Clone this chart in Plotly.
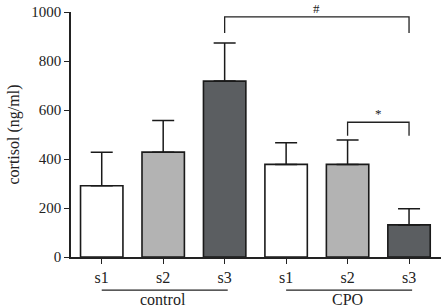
import plotly.graph_objects as go

categories = ["s1", "s2", "s3", "s1 ", "s2 ", "s3 "]
tick_labels = ["s1", "s2", "s3", "s1", "s2", "s3"]
means = [291, 428, 718, 378, 378, 131]
errors = [137, 129, 155, 88, 100, 66]
bar_colors = ["#ffffff", "#b3b3b3", "#5b5e61", "#ffffff", "#b3b3b3", "#5b5e61"]
groups = ["control", "CPO"]
y_ticks = [0, 200, 400, 600, 800, 1000]

FONT = "Liberation Serif"
x = list(range(len(categories)))

fig = go.Figure()
fig.add_trace(go.Bar(
    x=x, y=means, width=0.69,
    marker=dict(color=bar_colors, line=dict(color="#1a1a1a", width=1.6)),
    error_y=dict(type="data", array=errors, arrayminus=[0]*len(errors),
                 symmetric=False, color="#1a1a1a", thickness=1.5, width=11),
    showlegend=False,
))

# significance brackets
def bracket(x0, x1, ytop, ydrop, label):
    fig.add_shape(type="path", xref="x", yref="y",
                  path=f"M {x0},{ydrop} L {x0},{ytop} L {x1},{ytop} L {x1},{ydrop}",
                  line=dict(color="#222", width=1.3))
    fig.add_annotation(x=(x0 + x1) / 2, y=ytop, text=label, showarrow=False,
                       yanchor="bottom", yshift=-1, font=dict(family=FONT, size=13, color="#222"))

bracket(2, 5, 980, 914, "#")
bracket(4, 5, 550, 495, "*")

# group lines and labels
for gi, g in enumerate(groups):
    x0, x1 = gi * 3, gi * 3 + 2
    fig.add_shape(type="line", xref="x", yref="paper", x0=x0, x1=x1 + 0.05,
                  y0=-0.135, y1=-0.135, line=dict(color="#222", width=1.3))
    fig.add_annotation(x=(x0 + x1) / 2, y=-0.172, xref="x", yref="paper", text=g,
                       showarrow=False, yanchor="middle",
                       font=dict(family=FONT, size=16, color="#222"))

# y-axis title
fig.add_annotation(x=-58 / 370, y=0.5, xref="paper", yref="paper",
                   text="cortisol (ng/ml)", textangle=-90, showarrow=False,
                   xanchor="center", yanchor="middle",
                   font=dict(family=FONT, size=16, color="#222"))

fig.update_layout(
    width=442, height=307,
    margin=dict(l=71, r=1, t=12, b=50),
    plot_bgcolor="white", paper_bgcolor="white",
    font=dict(family=FONT, size=15, color="#222"),
    bargap=0.3,
)
fig.update_xaxes(
    range=[-0.5, 5.52], tickvals=x, ticktext=tick_labels,
    tickfont=dict(size=16),
    showline=True, linecolor="#222", linewidth=1.5,
    ticks="outside", ticklen=5, tickwidth=1.3, tickcolor="#222",
    showgrid=False, zeroline=False, fixedrange=True, automargin=False,
)
fig.update_yaxes(
    range=[0, 1000], tickvals=y_ticks,
    showline=True, linecolor="#222", linewidth=1.5,
    ticks="outside", ticklen=5, tickwidth=1.3, tickcolor="#222",
    showgrid=False, zeroline=False, automargin=False,
)

fig.write_html("out.html", config={"displayModeBar": False},
               post_script="document.body.style.margin='0px';")
